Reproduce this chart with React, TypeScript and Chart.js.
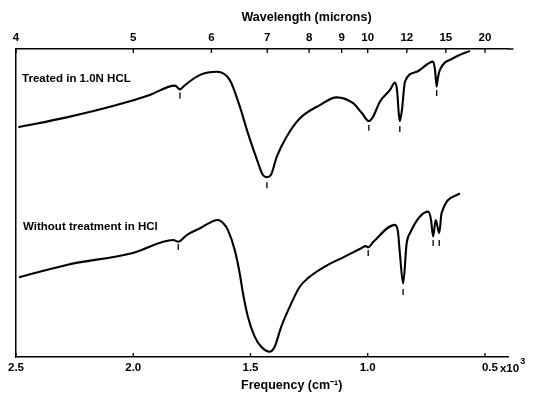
import React, { useEffect, useRef } from 'react';
import { Chart, registerables } from 'chart.js';

Chart.register(...registerables);

// Frequency in cm^-1, transmittance in arbitrary units (0-100)
const treatedFreq = [2490, 2284, 2071, 1929, 1822, 1801, 1779, 1715, 1643, 1588, 1545, 1511, 1472, 1447, 1430, 1413, 1388, 1346, 1289, 1204, 1133, 1062, 1025, 995, 978, 948, 905, 884, 875, 867, 863, 854, 841, 791, 721, 713, 706, 701, 692, 635, 564];
const treatedT = [74.6, 77.8, 81.8, 85.1, 88.1, 86.9, 88.3, 91.6, 92.6, 89.9, 81.2, 72.7, 64.0, 59.1, 58.4, 59.1, 65.0, 71.5, 77.5, 81.8, 84.3, 82.4, 79.2, 76.6, 77.9, 82.9, 86.7, 89.1, 86.7, 78.6, 76.6, 80.2, 89.4, 92.6, 95.9, 93.2, 87.8, 90.6, 93.2, 97.0, 99.4];

const untreatedFreq = [2487, 2284, 2001, 1829, 1808, 1772, 1715, 1639, 1613, 1596, 1567, 1546, 1532, 1511, 1482, 1454, 1418, 1397, 1369, 1326, 1290, 1255, 1184, 1098, 1028, 1008, 998, 976, 884, 871, 863, 849, 834, 820, 742, 730, 721, 710, 695, 685, 607];
const untreatedT = [25.9, 29.9, 33.8, 38.0, 37.4, 39.6, 41.8, 44.5, 43.2, 41.2, 34.7, 27.2, 20.7, 13.1, 6.6, 3.3, 1.7, 3.3, 9.8, 17.4, 22.8, 25.6, 29.3, 32.6, 35.3, 36.0, 35.6, 37.4, 42.9, 40.6, 33.8, 23.9, 36.9, 40.2, 47.2, 44.5, 39.1, 44.5, 40.2, 46.7, 53.1];

// small band markers under absorption minima
const treatedMarkFreq = [1801, 1430, 995, 863, 706];
const treatedMarkT = [84.9, 55.8, 74.4, 74.0, 85.7];
const untreatedMarkFreq = [1808, 998, 849, 721, 695];
const untreatedMarkT = [35.7, 33.8, 21.1, 37.0, 37.0];

const freqTicks = [2500, 2000, 1500, 1000, 500];
const freqTickLabels = ['2.5', '2.0', '1.5', '1.0', ''];
const lastFreqLabel = '0.5';
const wavelengthTicks = [4, 5, 6, 7, 8, 9, 10, 12, 15, 20];
const seriesLabels = ['Treated in 1.0N HCL', 'Without treatment in HCl'];
const seriesLabelAnchors = [
  { f: 2474, t: 90.3 },
  { f: 2470, t: 42.2 },
];
const topTitle = 'Wavelength (microns)';
const bottomTitle = 'Frequency (cm⁻¹)';

const FONT = "'Liberation Sans', Arial, sans-serif";

const toPoints = (xs: number[], ys: number[]) => xs.map((x, i) => ({ x, y: ys[i] }));

const decorPlugin = {
  id: 'decor',
  afterDraw(chart: any) {
    const ctx = chart.ctx;
    const x = chart.scales.x;
    const x2 = chart.scales.x2;
    const y = chart.scales.y;
    const area = chart.chartArea;
    ctx.save();
    ctx.strokeStyle = '#000';
    ctx.lineWidth = 1.3;
    // inward tick marks
    freqTicks.forEach((v) => {
      const px = x.getPixelForValue(v);
      ctx.beginPath();
      ctx.moveTo(px, x.top);
      ctx.lineTo(px, x.top - 4);
      ctx.stroke();
    });
    wavelengthTicks.forEach((w) => {
      const px = x2.getPixelForValue(10000 / w);
      ctx.beginPath();
      ctx.moveTo(px, x2.bottom);
      ctx.lineTo(px, x2.bottom + 4);
      ctx.stroke();
    });
    // top axis line overhang
    ctx.lineWidth = 1.5;
    ctx.beginPath();
    ctx.moveTo(x2.right, x2.bottom);
    ctx.lineTo(x2.right + 5, x2.bottom);
    ctx.stroke();

    ctx.fillStyle = '#000';
    ctx.textBaseline = 'middle';
    // last frequency label with x10^3 multiplier
    const p500 = x.getPixelForValue(500);
    ctx.textAlign = 'left';
    ctx.font = `bold 11.5px ${FONT}`;
    let cx = p500 - 3;
    ctx.fillText(lastFreqLabel, cx, x.top + 11);
    cx += ctx.measureText(lastFreqLabel).width + 2;
    ctx.fillText('x10', cx, x.top + 12);
    cx += ctx.measureText('x10').width + 1;
    ctx.font = `bold 9px ${FONT}`;
    ctx.fillText('3', cx, x.top + 5);

    // axis titles
    ctx.textAlign = 'center';
    ctx.font = `bold 12.5px ${FONT}`;
    ctx.fillText(topTitle, area.left + 0.59 * (area.right - area.left), 18);
    ctx.fillText(bottomTitle, area.left + 0.56 * (area.right - area.left), x.bottom - 10);

    // series labels
    ctx.textAlign = 'left';
    ctx.font = `bold 11.5px ${FONT}`;
    seriesLabels.forEach((s, i) => {
      const a = seriesLabelAnchors[i];
      ctx.fillText(s, x.getPixelForValue(a.f), y.getPixelForValue(a.t));
    });
    ctx.restore();
  },
};

export default function App() {
  const ref = useRef<HTMLCanvasElement>(null);

  useEffect(() => {
    document.body.style.margin = '0';
    if (!ref.current) return;
    const lineStyle = {
      borderColor: '#000',
      borderWidth: 2.1,
      pointRadius: 0,
      fill: false,
      cubicInterpolationMode: 'monotone' as const,
      xAxisID: 'x',
      yAxisID: 'y',
    };
    const markStyle = {
      borderColor: '#000',
      backgroundColor: '#000',
      borderWidth: 1.3,
      showLine: false,
      pointStyle: 'line' as const,
      rotation: 90,
      pointRadius: 3,
      xAxisID: 'x',
      yAxisID: 'y',
    };
    const chart = new Chart(ref.current, {
      type: 'line',
      data: {
        datasets: [
          { label: seriesLabels[0], data: toPoints(treatedFreq, treatedT), ...lineStyle },
          { label: seriesLabels[1], data: toPoints(untreatedFreq, untreatedT), ...lineStyle },
          { label: 'marks1', data: toPoints(treatedMarkFreq, treatedMarkT), ...markStyle },
          { label: 'marks2', data: toPoints(untreatedMarkFreq, untreatedMarkT), ...markStyle },
        ],
      },
      options: {
        animation: false,
        responsive: true,
        maintainAspectRatio: false,
        layout: { padding: { left: 0, right: 24.6, top: 0, bottom: 0 } },
        plugins: { legend: { display: false }, tooltip: { enabled: false } },
        scales: {
          x: {
            type: 'linear',
            position: 'bottom',
            reverse: true,
            min: 400,
            max: 2500,
            afterBuildTicks: (s: any) => {
              s.ticks = freqTicks.map((v) => ({ value: v }));
            },
            afterFit: (s: any) => {
              s.height = 39;
            },
            ticks: {
              autoSkip: false,
              maxRotation: 0,
              padding: 4,
              color: '#000',
              font: { family: FONT, size: 11.5, weight: 'bold' },
              callback: (v: any) => freqTickLabels[freqTicks.indexOf(Number(v))] ?? '',
            },
            grid: { display: false, drawTicks: false },
            border: { display: true, color: '#000', width: 1.5 },
            title: { display: false },
          },
          x2: {
            type: 'linear',
            position: 'top',
            reverse: true,
            min: 400,
            max: 2500,
            afterBuildTicks: (s: any) => {
              s.ticks = wavelengthTicks.map((w) => ({ value: 10000 / w }));
            },
            afterFit: (s: any) => {
              s.height = 49;
            },
            ticks: {
              autoSkip: false,
              maxRotation: 0,
              padding: 4,
              color: '#000',
              font: { family: FONT, size: 11.5, weight: 'bold' },
              callback: (v: any) => String(Math.round(10000 / Number(v))),
            },
            grid: { display: false, drawTicks: false },
            border: { display: true, color: '#000', width: 1.5 },
            title: { display: false },
          },
          y: {
            type: 'linear',
            min: 0,
            max: 100,
            ticks: { display: false },
            grid: { display: false, drawTicks: false },
            border: { display: true, color: '#000', width: 1.5 },
            afterFit: (s: any) => {
              s.width = 16;
            },
          },
        },
      },
      plugins: [decorPlugin],
    });
    return () => chart.destroy();
  }, []);

  return (
    <div style={{ position: 'fixed', left: 0, top: 0, width: 533, height: 396, background: '#fff' }}>
      <canvas ref={ref} />
    </div>
  );
}
